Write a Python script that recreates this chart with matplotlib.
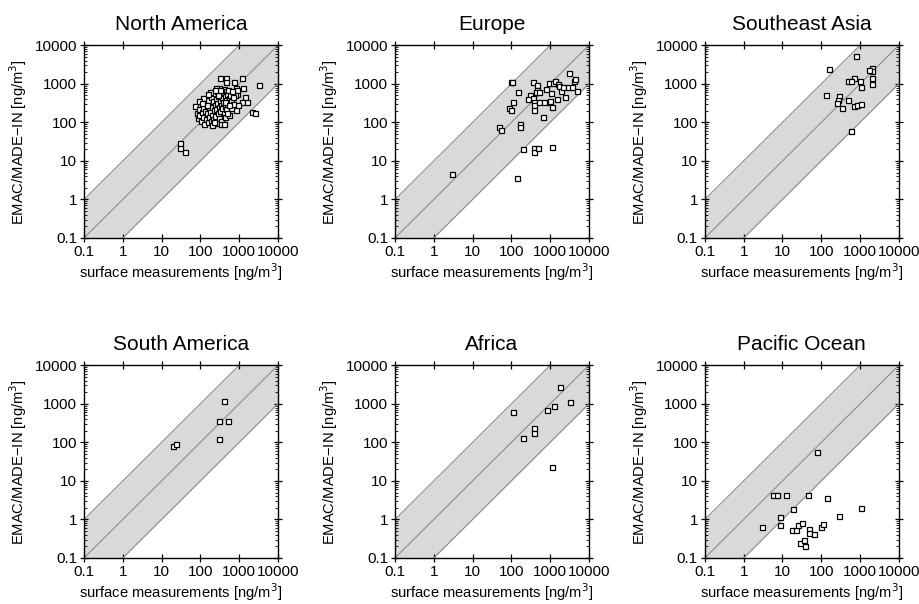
import numpy as np
import matplotlib
matplotlib.use("Agg")
import matplotlib.pyplot as plt
from matplotlib.ticker import FixedLocator, LogLocator, NullFormatter

plt.rcParams['font.family'] = ['Liberation Sans', 'DejaVu Sans']

regions = ["North America", "Europe", "Southeast Asia",
           "South America", "Africa", "Pacific Ocean"]

# surface measurements (x) and EMAC/MADE-IN (y), ng/m3
na_x = [324, 457, 457, 741, 1170, 3300, 2200, 2560, 30, 30, 40,
        835, 860, 900, 1290, 1400, 1200, 1580, 835, 950, 800,
        75, 80, 85, 90, 95, 100, 105, 110, 115, 120, 125, 130, 135, 140, 145,
        150, 155, 160, 165, 170, 175, 180, 185, 190, 195, 200, 210, 215, 220,
        230, 235, 240, 250, 255, 260, 270, 275, 280, 290, 295, 300, 310, 315,
        320, 330, 335, 340, 350, 360, 370, 380, 390, 400, 410, 420, 430, 440,
        450, 460, 470, 480, 500, 520, 540, 560, 580, 600, 620, 650, 680, 700,
        120, 90, 180, 260, 350, 200, 150, 110, 280, 400, 230, 320, 420, 550,
        240, 160, 500]
na_y = [1450, 1450, 1120, 1120, 1450, 930, 182, 175, 30, 22, 16.6,
        760, 560, 700, 760, 460, 330, 330, 210, 280, 500,
        270, 180, 130, 220, 160, 300, 110, 190, 240, 140, 90, 330, 200, 120, 260,
        170, 100, 380, 230, 140, 290, 190, 110, 450, 250, 160, 350, 120, 210,
        580, 280, 150, 400, 95, 220, 650, 320, 170, 480, 250, 130, 760, 360,
        200, 550, 280, 110, 700, 420, 230, 600, 330, 180, 750, 480, 260, 140,
        650, 380, 220, 560, 300, 700, 420, 160, 520, 350, 240, 640, 450, 300,
        420, 350, 600, 780, 90, 85, 280, 320, 520, 90, 100, 680, 330, 280,
        700, 560, 170]

eu_x = [2.95, 144, 200, 390, 390, 500, 1150, 48, 54, 166, 166, 85, 98, 110,
        100, 104, 147, 295, 262, 365, 455, 470, 440, 530, 370, 375, 380, 385,
        510, 700, 940, 650, 780, 955, 1050, 1200, 1350, 1580, 1700, 1900,
        1550, 1150, 2350, 2200, 2830, 3000, 3700, 4170, 4450, 4900, 980]
eu_y = [4.6, 3.6, 20.4, 21, 16.6, 22, 23, 78, 62, 93, 78, 234, 204, 345,
        1120, 1100, 600, 500, 400, 1120, 960, 710, 620, 620, 417, 330, 280, 205,
        330, 330, 330, 135, 725, 1080, 590, 1080, 1170, 975, 870, 645,
        400, 257, 460, 830, 830, 1960, 830, 1150, 1350, 645, 355]

sea_x = [780, 155, 2000, 2000, 1660, 2000, 2000, 690, 500, 600, 1020, 1050,
         130, 290, 270, 255, 340, 480, 700, 830, 1040, 590]
sea_y = [5200, 2500, 2630, 2180, 2250, 1380, 980, 1440, 1150, 1150, 1220, 850,
         500, 490, 390, 315, 240, 370, 270, 280, 295, 59]

sa_x = [20, 24, 400, 310, 510, 310]
sa_y = [79, 89, 1150, 365, 365, 126]

af_x = [110, 200, 390, 390, 810, 1260, 1830, 3300, 1150]
af_y = [600, 132, 234, 175, 690, 870, 2800, 1090, 23]

po_x = [79, 5.6, 7.4, 12, 45, 145, 19, 1050, 290, 8.7, 8.7, 2.95,
        18, 22, 25, 32, 49, 49, 67, 98, 110, 29, 36, 39]
po_y = [55, 4.4, 4.4, 4.4, 4.4, 3.55, 1.9, 1.96, 1.26, 1.18, 0.72, 0.63,
        0.54, 0.54, 0.72, 0.79, 0.58, 0.45, 0.42, 0.63, 0.76, 0.25, 0.30, 0.21]

data = [(na_x, na_y), (eu_x, eu_y), (sea_x, sea_y),
        (sa_x, sa_y), (af_x, af_y), (po_x, po_y)]

ticks = [0.1, 1, 10, 100, 1000, 10000]
tick_labels = ["0.1", "1", "10", "100", "1000", "10000"]

fig = plt.figure(figsize=(9.19, 6.04), dpi=100)
lefts = [0.0914, 0.4298, 0.767]
bottoms = [0.606, 0.0762]
w, h = 0.211, 0.319

line = np.array([1e-3, 1e6])
for i, (name, (x, y)) in enumerate(zip(regions, data)):
    ax = fig.add_axes([lefts[i % 3], bottoms[i // 3], w, h])
    ax.fill_between(line, line / 10, line * 10, color='#d9d9d9', lw=0, zorder=1)
    for f in [0.1, 1, 10]:
        ax.plot(line, line * f, color='#8c8c8c', lw=0.8, zorder=2)
    ax.plot(x, y, 's', ms=3.6, mfc='white', mec='black', mew=0.9, ls='none', zorder=3)
    ax.set_xscale('log')
    ax.set_yscale('log')
    ax.set_xlim(0.1, 10000)
    ax.set_ylim(0.1, 10000)
    for axis in [ax.xaxis, ax.yaxis]:
        axis.set_major_locator(FixedLocator(ticks))
        axis.set_minor_locator(LogLocator(base=10, subs=np.arange(2, 10)))
        axis.set_minor_formatter(NullFormatter())
    ax.set_xticklabels(tick_labels)
    ax.set_yticklabels(tick_labels)
    ax.tick_params(which='major', direction='inout', length=6, width=0.9,
                   top=True, right=True, labelsize=11, pad=2)
    ax.tick_params(which='minor', direction='in', length=2.5, width=0.6,
                   top=True, right=True)
    for s in ax.spines.values():
        s.set_linewidth(1.0)
    ax.set_title(name, fontsize=15, pad=11)
    ax.set_xlabel("surface measurements [ng/m$^3$]", fontsize=10.6, labelpad=2)
    ax.set_ylabel("EMAC/MADE\u2212IN [ng/m$^3$]", fontsize=10.6, labelpad=4)

fig.savefig("out.png", dpi=100)
